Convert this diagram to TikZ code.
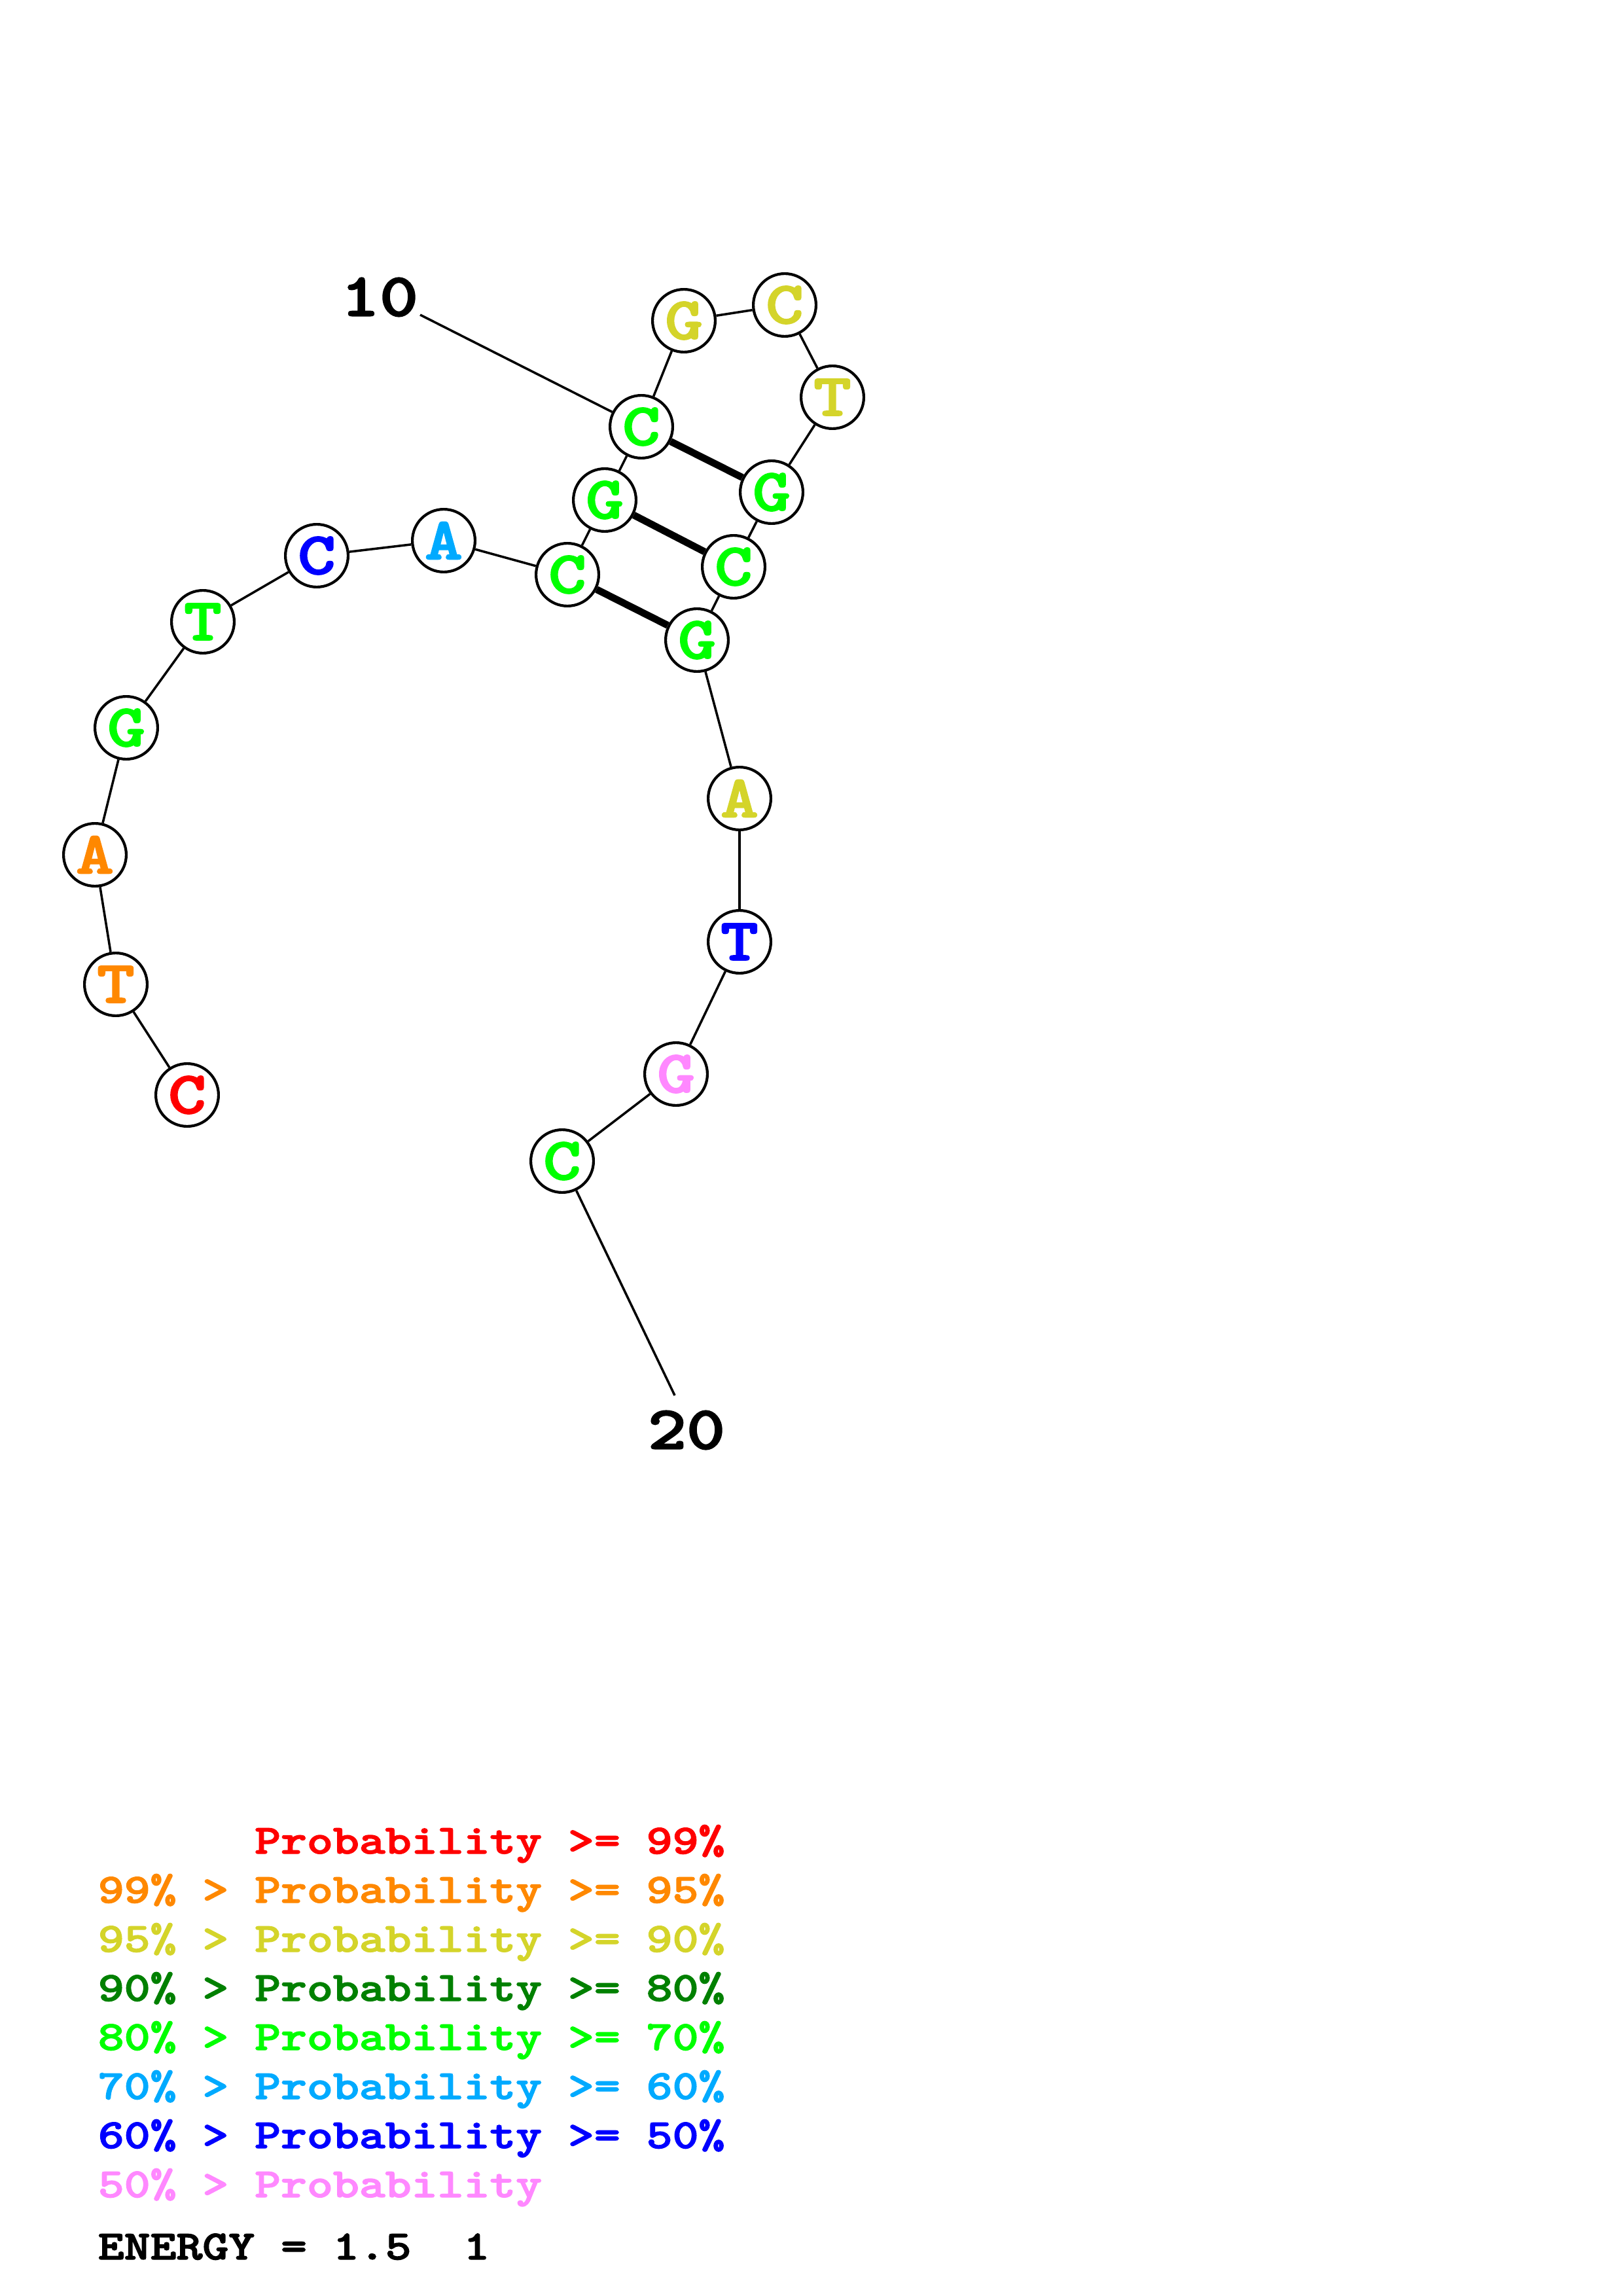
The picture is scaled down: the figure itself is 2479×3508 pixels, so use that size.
\documentclass[tikz,border=0pt]{standalone}
\usepackage{fontspec}
\usepackage{graphicx}
\newfontfamily\cour{lmmonolt10-bold}[Extension=.otf,FakeBold=2]
\newcommand{\wideb}[1]{\scalebox{1.2}[1]{#1}}
\definecolor{pred}{RGB}{255,0,0}
\definecolor{porange}{RGB}{255,136,0}
\definecolor{pyellow}{RGB}{212,212,42}
\definecolor{pdkgreen}{RGB}{0,128,0}
\definecolor{pgreen}{RGB}{0,255,0}
\definecolor{plblue}{RGB}{0,170,255}
\definecolor{pblue}{RGB}{0,0,255}
\definecolor{ppink}{RGB}{255,136,255}
\begin{document}
\begin{tikzpicture}[x=0.24pt,y=-0.24pt,
  base/.style={circle,draw,fill=white,line width=1pt,minimum size=23pt,inner sep=0pt,
    font=\cour\fontsize{22}{24}\selectfont},
  bond/.style={line width=0.85pt},
  pair/.style={line width=2.6pt},
  numlabel/.style={font=\cour\fontsize{22.5}{24}\selectfont,inner sep=0pt},
  legend/.style={anchor=base west,inner sep=0pt,font=\cour\fontsize{15.2}{18}\selectfont}]
\useasboundingbox (0,0) rectangle (2479,3508);
% nucleotides
\node[base,text=pred]     (n1)  at (286,1673) {\wideb{C}};
\node[base,text=porange]  (n2)  at (177,1504) {\wideb{T}};
\node[base,text=porange]  (n3)  at (145,1306) {\wideb{A}};
\node[base,text=pgreen]   (n4)  at (193,1112) {\wideb{G}};
\node[base,text=pgreen]   (n5)  at (310,950)  {\wideb{T}};
\node[base,text=pblue]    (n6)  at (484,849)  {\wideb{C}};
\node[base,text=plblue]   (n7)  at (678,826)  {\wideb{A}};
\node[base,text=pgreen]   (n8)  at (867,878)  {\wideb{C}};
\node[base,text=pgreen]   (n9)  at (924,764)  {\wideb{G}};
\node[base,text=pgreen]   (n10) at (980,652)  {\wideb{C}};
\node[base,text=pyellow]  (n11) at (1045,490) {\wideb{G}};
\node[base,text=pyellow]  (n12) at (1199,466) {\wideb{C}};
\node[base,text=pyellow]  (n13) at (1272,607) {\wideb{T}};
\node[base,text=pgreen]   (n14) at (1179,752) {\wideb{G}};
\node[base,text=pgreen]   (n15) at (1121,866) {\wideb{C}};
\node[base,text=pgreen]   (n16) at (1065,978) {\wideb{G}};
\node[base,text=pyellow]  (n17) at (1130,1220) {\wideb{A}};
\node[base,text=pblue]    (n18) at (1130,1439) {\wideb{T}};
\node[base,text=ppink]    (n19) at (1033,1641) {\wideb{G}};
\node[base,text=pgreen]   (n20) at (859,1774) {\wideb{C}};
% backbone
\foreach \a/\b in {1/2,2/3,3/4,4/5,5/6,6/7,7/8,8/9,9/10,10/11,11/12,12/13,13/14,14/15,15/16,16/17,17/18,18/19,19/20}
  \draw[bond] (n\a) -- (n\b);
% base pairs
\draw[pair] (n8) -- (n16);
\draw[pair] (n9) -- (n15);
\draw[pair] (n10) -- (n14);
% numbering
\node[numlabel] (lab10) at (580,454) {\wideb{10}};
\coordinate (c10) at (642,481);
\draw[bond] (c10) -- (n10);
\node[numlabel] (lab20) at (1049,2185) {\wideb{20}};
\coordinate (c20) at (1031,2132);
\draw[bond] (c20) -- (n20);
% legend
\node[legend,text=pred]     (lg1) at (149,2832) {\wideb{\phantom{99\%~>~}Probability~>=~99\%}};
\node[legend,text=porange]  (lg2) at (149,2907) {\wideb{99\%~>~Probability~>=~95\%}};
\node[legend,text=pyellow]  (lg3) at (149,2982) {\wideb{95\%~>~Probability~>=~90\%}};
\node[legend,text=pdkgreen] (lg4) at (149,3057) {\wideb{90\%~>~Probability~>=~80\%}};
\node[legend,text=pgreen]   (lg5) at (149,3132) {\wideb{80\%~>~Probability~>=~70\%}};
\node[legend,text=plblue]   (lg6) at (149,3207) {\wideb{70\%~>~Probability~>=~60\%}};
\node[legend,text=pblue]    (lg7) at (149,3282) {\wideb{60\%~>~Probability~>=~50\%}};
\node[legend,text=ppink]    (lg8) at (149,3357) {\wideb{50\%~>~Probability}};
\node[legend,text=black]    (lg9) at (149,3452) {\wideb{ENERGY~=~1.5~~1}};
\end{tikzpicture}
\end{document}
